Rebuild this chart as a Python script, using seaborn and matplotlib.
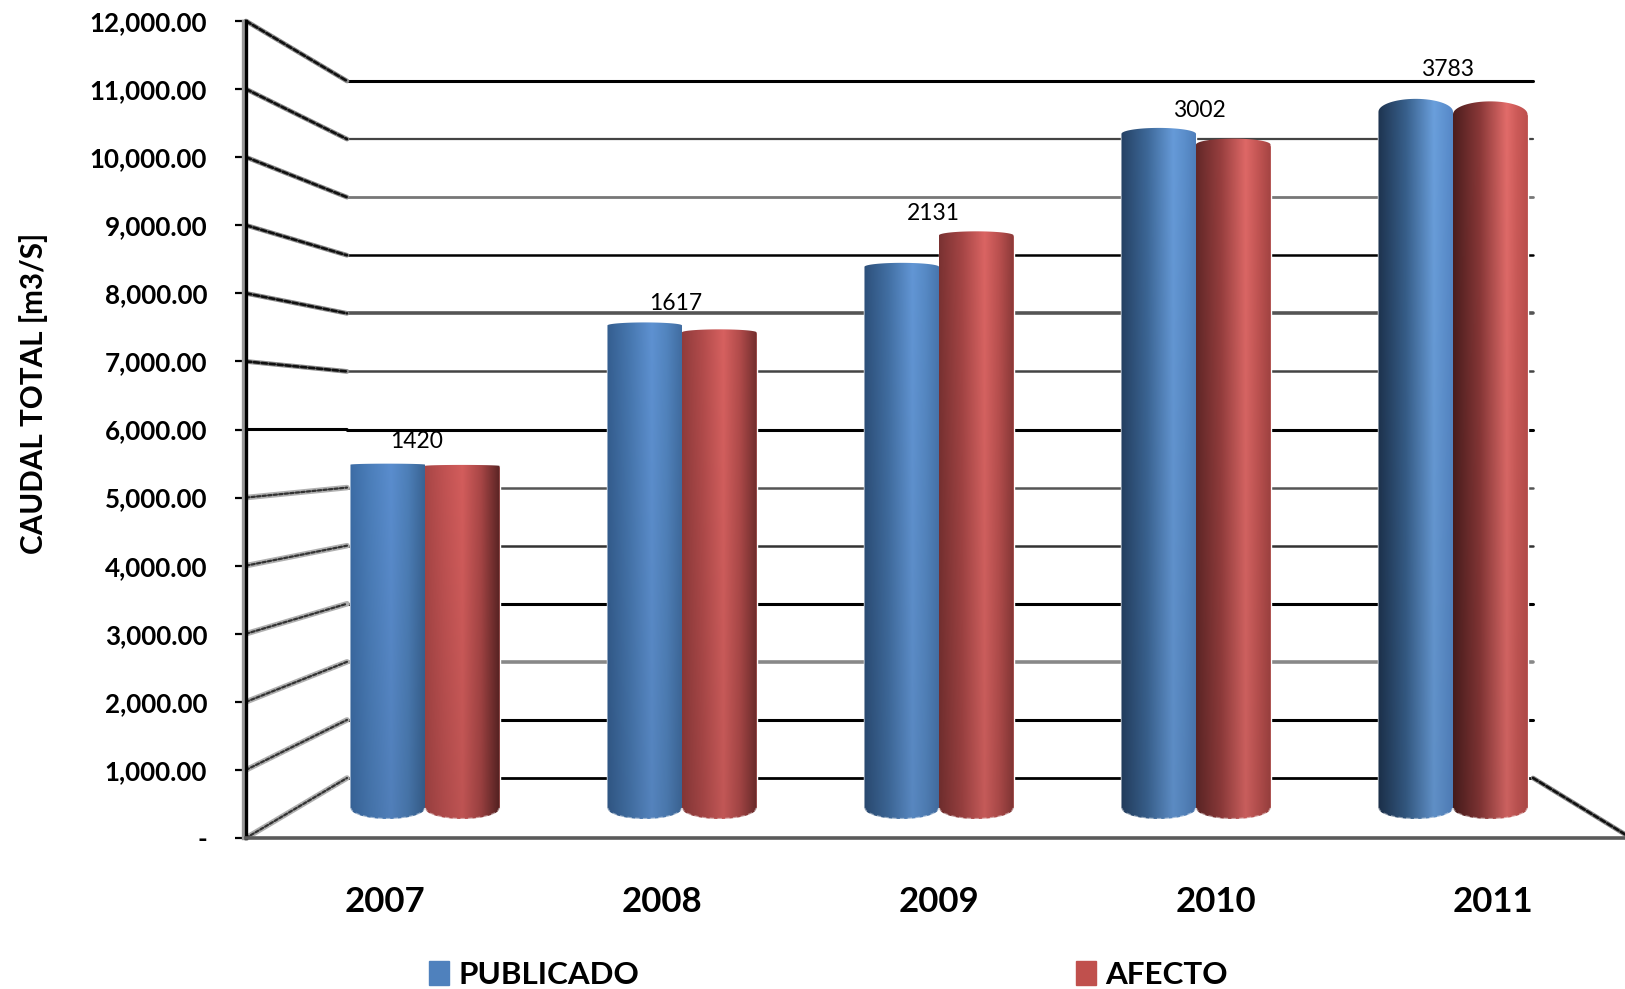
import numpy as np
import pandas as pd
import matplotlib
matplotlib.use("Agg")
import matplotlib.pyplot as plt
import matplotlib.patheffects as pe
from matplotlib.colors import to_rgb
from matplotlib.patches import ConnectionPatch, PathPatch, Patch
from matplotlib.path import Path
import seaborn as sns

# values
years = ["2007", "2008", "2009", "2010", "2011"]
publicado = [5450, 7660, 8590, 10700, 11050]
afecto = [5430, 7550, 9090, 10530, 11010]
top_labels = [1420, 1617, 2131, 3002, 3783]
y_ticks = list(range(0, 13000, 1000))

# look of the back wall lines, from 0 up to 12000
grid_colors = ["#000000", "#000000", "#888888", "#000000", "#333333", "#555555", "#000000",
               "#444444", "#555555", "#000000", "#777777", "#444444", "#000000"]
grid_widths = [2.0, 2.2, 2.6, 2.2, 1.8, 1.8, 2.2, 1.8, 2.6, 1.8, 2.0, 1.6, 2.2]

# cylinder look
top_arch_px = [1, 3, 4, 6, 13]
bottom_arch_px = 11
label_dx = [-8, -6, -6, 3, -5]
label_dy = [23, 22, 22, 23, 42]
blue_stops = (["#3c6ca5", "#4c7fbb", "#5a8dce", "#4d7fb8", "#3a6494"],
              ["#1e3450", "#38608c", "#6a9fdc", "#6094d2", "#5688c8"])
red_stops = (["#a84646", "#c05252", "#d35d5c", "#a84646", "#5a2424"],
             ["#4c1e1e", "#8a3838", "#e26c6a", "#cc5a58", "#bd4f4d"])

W, H = 1625, 989


def box(left, top, right, bottom):
    return [left / W, 1 - bottom / H, (right - left) / W, (bottom - top) / H]


sns.set_theme(style="white")
plt.rcParams["font.family"] = ["Lato", "DejaVu Sans"]

fig = plt.figure(figsize=(W / 100, H / 100), dpi=100, facecolor="white")

# back wall
back = fig.add_axes(box(347, 81, 1533, 778), zorder=1)
back.set_xlim(0, 1)
back.set_ylim(0, 12000)
back.set_yticks(y_ticks)
back.set_xticks([])
back.tick_params(left=False, labelleft=False)
sns.despine(ax=back, left=True, bottom=True)
back.grid(axis="y", visible=True)
for line, c, lw in zip(back.get_ygridlines(), grid_colors, grid_widths):
    line.set_color(c)
    line.set_linewidth(lw)
    line.set_clip_on(False)

# front axis with the ticks
front = fig.add_axes(box(246, 21, 1631, 838), zorder=3)
front.patch.set_alpha(0)
front.set_xlim(-0.5, 4.5)
front.set_ylim(0, 12000)
front.set_yticks(y_ticks)
front.set_yticklabels(["-" if v == 0 else f"{v:,.2f}" for v in y_ticks],
                      fontsize=18.7, fontweight="bold", color="black")
front.set_xticks(range(len(years)))
front.set_xticklabels(years, fontsize=25, fontweight="bold", color="black")
front.tick_params(axis="y", left=True, length=8, width=1.6, color="black", pad=20)
front.tick_params(axis="x", bottom=False, pad=28.5)
front.set_ylabel("CAUDAL TOTAL [m3/S]", fontsize=21.3, fontweight="bold", color="black")
front.yaxis.set_label_coords(48 / W, 1 - 393 / H, transform=fig.transFigure)
front.spines[["top", "right"]].set_visible(False)
front.spines["left"].set_color("black")
front.spines["left"].set_linewidth(2.4)
front.spines["left"].set_path_effects([
    pe.SimpleLineShadow(offset=(-2.2, 0), shadow_color="#9a9a9a", alpha=1), pe.Normal()])
front.spines["bottom"].set_color("#5a5a5a")
front.spines["bottom"].set_linewidth(2.6)


def slanted(xy_a, ax_a, xy_b, ax_b, dark):
    # grey body with a dotted dark line on it, as in the source
    if dark:
        layers = [("#8a8a8a", 3.4, "-"), ("#111111", 1.9, (0, (2, 1)))]
    else:
        layers = [("#b0b0b0", 4.0, "-"), ("#333333", 1.6, (0, (1.5, 1)))]
    for color, lw, ls in layers:
        fig.add_artist(ConnectionPatch(xyA=xy_a, coordsA=ax_a.transData,
                                       xyB=xy_b, coordsB=ax_b.transData,
                                       color=color, lw=lw, ls=ls, zorder=1.5))


# lines from the front axis to the back wall, 6000 runs flat
for v in y_ticks:
    if v == 6000:
        fig.add_artist(ConnectionPatch(xyA=(-0.5, v), coordsA=front.transData,
                                       xyB=(0, v), coordsB=back.transData,
                                       color="black", lw=2.2, zorder=1.5))
    else:
        slanted((-0.5, v), front, (0, v), back, v > 6000)
slanted((1, 0), back, (4.5, 0), front, True)

# bars, 63 px per 1000 between the two walls
ax = fig.add_axes(box(296.5, 52, 1581.5, 833.2), zorder=2)
df = pd.DataFrame({
    "year": years * 2,
    "caudal": publicado + afecto,
    "serie": ["PUBLICADO"] * 5 + ["AFECTO"] * 5,
})
sns.barplot(data=df, x="year", y="caudal", hue="serie", order=years,
            hue_order=["PUBLICADO", "AFECTO"], palette=["#4f81bd", "#c0504d"],
            width=0.58, gap=0, dodge=True, saturation=1, errorbar=None, legend=False, ax=ax)
ax.set_xlim(-0.5, 4.5)
ax.set_ylim(-400, 12000)
ax.set_axis_off()

v_per_px = 1000 / 63
bars = [p for p in ax.patches if p.get_height() > 0]
for k, p in enumerate(bars):
    i = k % 5
    t = i / 4
    x0, w, v = p.get_x(), p.get_width(), p.get_height()
    stops = blue_stops if k < 5 else red_stops
    peak = (0.55 + 0.20 * t) if k < 5 else (0.50 + 0.22 * t)
    xs = [0, peak / 2, peak, (1 + peak) / 2, 1]
    cols = (1 - t) * np.array([to_rgb(c) for c in stops[0]]) + t * np.array([to_rgb(c) for c in stops[1]])
    u = np.linspace(0, 1, 96)
    row = np.column_stack([np.interp(u, xs, cols[:, n]) for n in range(3)])
    fade = np.linspace(1.0, 0.9, 48)[:, None, None]
    img = row[None, :, :] * fade

    # outline of the cylinder, arcs on top and bottom
    a = np.linspace(0, np.pi, 40)
    top_arc = v + top_arch_px[i] * v_per_px * np.sin(a)
    low_arc = -bottom_arch_px * v_per_px * np.sin(a)
    xu = x0 + w * (1 - np.cos(a)) / 2
    verts = np.vstack([np.column_stack([xu, low_arc]),
                       np.column_stack([xu[::-1], top_arc[::-1]])])
    clip = PathPatch(Path(np.vstack([verts, verts[0]])), transform=ax.transData,
                     fc="none", ec="none")
    ax.add_patch(clip)
    im = ax.imshow(img, extent=(x0, x0 + w, low_arc.min(), top_arc.max()),
                   aspect="auto", interpolation="bilinear", zorder=3 + k / 100)
    im.set_clip_path(clip)
    ax.plot(xu, low_arc, color="white", alpha=0.45, lw=1.6, ls=(0, (2, 1.5)), zorder=3.5 + k / 100)

ax.set_xlim(-0.5, 4.5)
ax.set_ylim(-400, 12000)

for i, lab in enumerate(top_labels):
    ax.annotate(str(lab), xy=(i, max(publicado[i], afecto[i])),
                xytext=(label_dx[i], label_dy[i]), textcoords="offset pixels",
                ha="center", va="center", fontsize=16.5, color="black", zorder=6)

# legend
handles = [Patch(color="#4f81bd", label="PUBLICADO"), Patch(color="#c0504d", label="AFECTO")]
fig.legend(handles=handles, ncol=2, frameon=False, loc="center",
           bbox_to_anchor=(828.5 / W, 1 - 975 / H), labelcolor="black",
           prop={"size": 22.6, "weight": "bold"}, handlelength=0.65, handleheight=0.8,
           handletextpad=0.3, columnspacing=13.9)

fig.savefig("out.png", dpi=100)
